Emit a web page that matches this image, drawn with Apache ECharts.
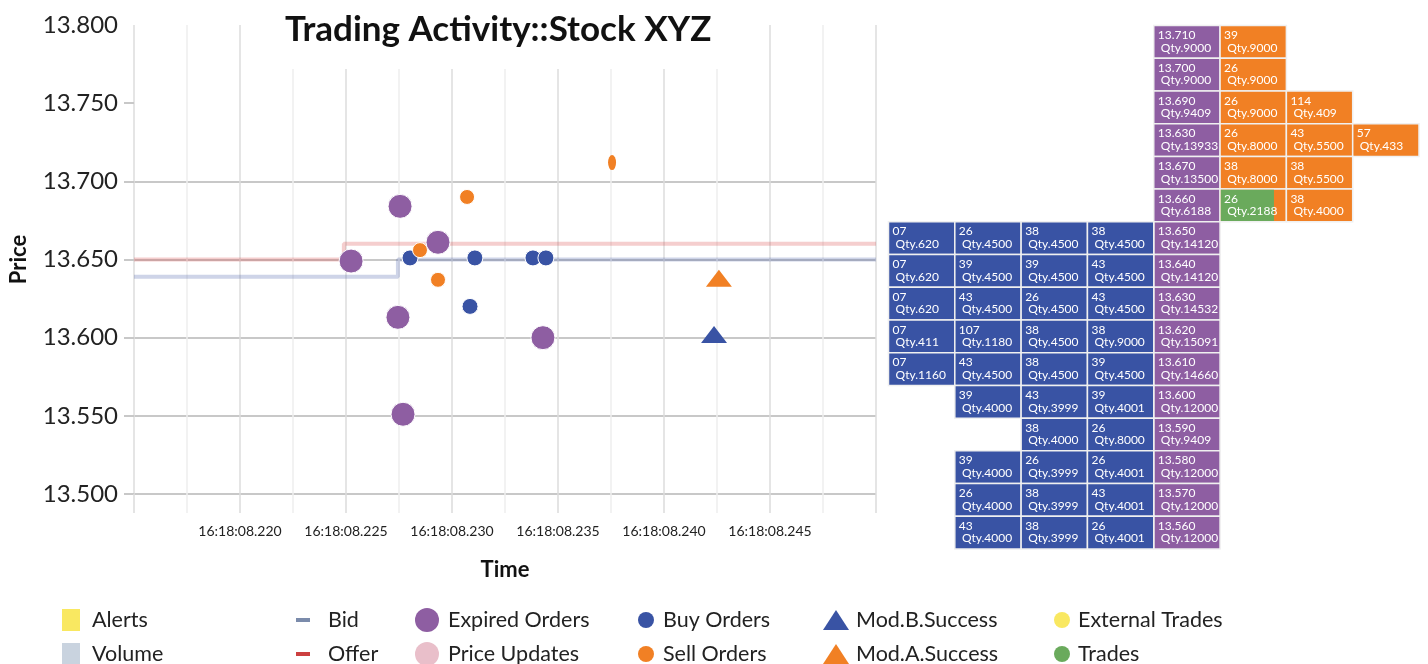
<!DOCTYPE html>
<html>
<head>
<meta charset="utf-8">
<script src="https://cdn.jsdelivr.net/npm/echarts@6/dist/echarts.min.js"></script>
<style>
html,body{margin:0;padding:0;background:#fff;}
#chart{width:1428px;height:664px;}
</style>
</head>
<body>
<div id="chart"></div>
<script>
// ---------- DATA ----------
const chartTitle = 'Trading Activity::Stock XYZ';
const timePrefix = '16:18:08.';
// time in milliseconds after 16:18:08.000, price
const bidLine = [[215, 13.639], [227.45, 13.650], [250, 13.650]];
const offerLine = [[215, 13.650], [224.9, 13.660], [250, 13.660]];
const expiredOrders = [[225.24, 13.649], [227.55, 13.684], [229.34, 13.661], [227.45, 13.613], [227.69, 13.551], [234.29, 13.600]];
const buyOrders = [[228.02, 13.651], [231.08, 13.651], [233.82, 13.651], [234.43, 13.651], [230.85, 13.620]];
const sellOrders = [[228.49, 13.656], [229.34, 13.637], [230.71, 13.690]];
const sellOrdersNarrow = [[237.55, 13.712]];
const modBSuccess = [[242.36, 13.602]];
const modASuccess = [[242.59, 13.638]];

// order book (top row to bottom row)
const bookPrices = ['13.710','13.700','13.690','13.630','13.670','13.660','13.650','13.640','13.630','13.620','13.610','13.600','13.590','13.580','13.570','13.560'];
const bookLevelQty = [9000,9000,9409,13933,13500,6188,14120,14120,14532,15091,14660,12000,9409,12000,12000,12000];
const bookBids = [
  [], [], [], [], [], [],
  [['07',620],['26',4500],['38',4500],['38',4500]],
  [['07',620],['39',4500],['39',4500],['43',4500]],
  [['07',620],['43',4500],['26',4500],['43',4500]],
  [['07',411],['107',1180],['38',4500],['38',9000]],
  [['07',1160],['43',4500],['38',4500],['39',4500]],
  [['39',4000],['43',3999],['39',4001]],
  [['38',4000],['26',8000]],
  [['39',4000],['26',3999],['26',4001]],
  [['26',4000],['38',3999],['43',4001]],
  [['43',4000],['38',3999],['26',4001]]
];
const bookAsks = [
  [['39',9000]],
  [['26',9000]],
  [['26',9000],['114',409]],
  [['26',8000],['43',5500],['57',433]],
  [['38',8000],['38',5500]],
  [['26',2188],['38',4000]],
  [], [], [], [], [], [], [], [], [], []
];
// [row, ask index, traded share of the order]
const bookTraded = [[5, 0, 0.82]];

// ---------- STYLE ----------
const C = {
  blue: '#3953a4', purple: '#8e5ea2', orange: '#f18024', green: '#6aaa5c',
  yellow: '#f9e861', volume: '#c9d3df', pink: '#e9bfca',
  bidLeg: '#7b8bab', offerLeg: '#cc4040'
};
const FONT = 'Lato, "Open Sans", sans-serif';

// build order book cells
const bookCols = ['b0','b1','b2','b3','p','a0','a1','a2'];
const bookRows = bookPrices.map((p, i) => 'r' + i);
const cells = [];
bookPrices.forEach((p, r) => {
  cells.push({col: 4, row: r, l1: p, l2: 'Qty.' + bookLevelQty[r], color: C.purple, share: 0});
  const bids = bookBids[r];
  bids.forEach((o, i) => {
    cells.push({col: 4 - bids.length + i, row: r, l1: o[0], l2: 'Qty.' + o[1], color: C.blue, share: 0});
  });
  bookAsks[r].forEach((o, i) => {
    let share = 0;
    bookTraded.forEach(t => { if (t[0] === r && t[1] === i) share = t[2]; });
    cells.push({col: 5 + i, row: r, l1: o[0], l2: 'Qty.' + o[1], color: C.orange, share: share});
  });
});

function renderCell(params, api) {
  const cell = cells[params.dataIndex];
  const c = api.coord([api.value(0), api.value(1)]);
  const s = api.size([1, 1]);
  const w = s[0], h = s[1];
  const x0 = c[0] - w / 2, y0 = c[1] - h / 2;
  const children = [{
    type: 'rect',
    shape: {x: x0, y: y0, width: w, height: h},
    style: {fill: cell.color, stroke: '#f0f0f0', lineWidth: 1.5}
  }];
  if (cell.share > 0) {
    children.push({
      type: 'rect',
      shape: {x: x0 + 0.75, y: y0 + 0.75, width: (w - 1.5) * cell.share, height: h - 1.5},
      style: {fill: C.green}
    });
  }
  children.push({
    type: 'text',
    style: {
      text: cell.l1 + '\n ' + cell.l2,
      x: x0 + 4, y: y0 + 3.5,
      fill: '#fff', fontSize: 12, fontFamily: FONT, lineHeight: 12.5,
      verticalAlign: 'top', align: 'left'
    }
  });
  return {type: 'group', children: children};
}

// legends
const legendSpec = [
  ['Alerts', 'rect', 18, 22, 62, 619, 12, C.yellow],
  ['Volume', 'rect', 18, 22, 62, 653, 12, C.volume],
  ['Bid', 'rect', 14, 4, 296, 619, 18, C.bidLeg],
  ['Offer', 'rect', 14, 4, 296, 653, 18, C.offerLeg],
  ['Expired Orders', 'circle', 24, 24, 415, 619, 9, C.purple],
  ['Price Updates', 'circle', 24, 24, 415, 653, 9, C.pink],
  ['Buy Orders', 'circle', 16, 16, 638, 619, 9, C.blue],
  ['Sell Orders', 'circle', 16, 16, 638, 653, 9, C.orange],
  ['Mod.B.Success', 'triangle', 26, 20, 823, 619, 7, C.blue],
  ['Mod.A.Success', 'triangle', 26, 20, 823, 653, 7, C.orange],
  ['External Trades', 'circle', 16, 16, 1054, 619, 8, C.yellow],
  ['Trades', 'circle', 16, 16, 1054, 653, 8, C.green]
];
const legends = legendSpec.map(l => ({
  data: [{name: l[0], icon: l[1], itemStyle: {color: l[7], borderWidth: 0, opacity: 1}}],
  left: l[4], top: l[5] - 12,
  itemWidth: l[2], itemHeight: l[3],
  padding: 0, selectedMode: false,
  textStyle: {fontSize: 21.5, fontFamily: FONT, color: '#222', lineHeight: 24, padding: [2, 0, 0, l[6] - 5]}
}));

const chart = echarts.init(document.getElementById('chart'), null, {renderer: 'canvas'});
const option = {
  backgroundColor: '#fff',
  animation: false,
  title: {
    text: chartTitle,
    left: 245, top: 0,
    padding: [10, 40, 19, 40],
    backgroundColor: '#fff',
    textStyle: {fontSize: 35, fontWeight: 'bold', fontFamily: FONT, color: '#111', lineHeight: 40}
  },
  legend: legends,
  grid: [
    {left: 133, right: 552, top: 25, bottom: 170, containLabel: false},
    {left: 888.5, right: 9, top: 25.5, bottom: 115, containLabel: false}
  ],
  xAxis: [{
    type: 'value', gridIndex: 0, min: 215, max: 250, interval: 5,
    name: 'Time', nameLocation: 'middle', nameGap: 65,
    nameTextStyle: {fontSize: 22, fontWeight: 'bold', fontFamily: FONT, color: '#111'},
    axisLine: {show: false},
    axisTick: {show: true, length: 19, lineStyle: {color: '#dcdcdc', width: 1.5}},
    minorTick: {show: true, splitNumber: 2, length: 19, lineStyle: {color: '#eeeeee', width: 1.5}},
    axisLabel: {
      showMinLabel: false, showMaxLabel: false, margin: 30,
      fontSize: 14, fontFamily: FONT, color: '#222',
      formatter: v => timePrefix + String(Math.round(v))
    },
    splitLine: {show: true, lineStyle: {color: '#dcdcdc', width: 1.5}},
    minorSplitLine: {show: true, lineStyle: {color: '#eeeeee', width: 1.5}}
  }, {
    type: 'category', gridIndex: 1, data: bookCols, show: false
  }],
  yAxis: [{
    type: 'value', gridIndex: 0, min: 13.5, max: 13.8, interval: 0.05,
    name: 'Price', nameLocation: 'middle', nameGap: 104,
    nameTextStyle: {fontSize: 22, fontWeight: 'bold', fontFamily: FONT, color: '#111'},
    axisLine: {show: false},
    axisTick: {show: true, length: 10, lineStyle: {color: '#c8c8c8', width: 2},
      customValues: [13.5, 13.55, 13.6, 13.65, 13.7, 13.75]},
    axisLabel: {margin: 16, fontSize: 24, fontFamily: FONT, color: '#222', formatter: v => v.toFixed(3)},
    splitLine: {show: true, showMaxLine: false, lineStyle: {color: '#c8c8c8', width: 2}}
  }, {
    type: 'category', gridIndex: 1, data: bookRows, inverse: true, show: false
  }],
  series: [
    {name: 'Alerts', type: 'scatter', data: [], itemStyle: {color: C.yellow}},
    {name: 'Volume', type: 'bar', data: [], itemStyle: {color: C.volume}},
    {name: 'Bid', type: 'line', step: 'end', symbol: 'none', data: bidLine, z: 3,
      itemStyle: {color: C.bidLeg}, lineStyle: {color: 'rgba(58,83,164,0.25)', width: 4}},
    {name: 'Offer', type: 'line', step: 'end', symbol: 'none', data: offerLine, z: 3,
      itemStyle: {color: C.offerLeg}, lineStyle: {color: 'rgba(214,60,60,0.25)', width: 4}},
    {name: 'Price Updates', type: 'scatter', data: [], itemStyle: {color: C.pink}},
    {name: 'Buy Orders', type: 'scatter', data: buyOrders, symbolSize: 16, z: 4,
      itemStyle: {color: C.blue, borderColor: '#fff', borderWidth: 1, opacity: 1}},
    {name: 'Sell Orders', type: 'scatter', data: sellOrders, symbolSize: 15, z: 4,
      itemStyle: {color: C.orange, borderColor: '#fff', borderWidth: 1, opacity: 1}},
    {name: 'Sell Orders', type: 'scatter', data: sellOrdersNarrow, symbolSize: [8, 15], z: 4,
      itemStyle: {color: C.orange, opacity: 1}},
    {name: 'Expired Orders', type: 'scatter', data: expiredOrders, symbolSize: 24, z: 5,
      itemStyle: {color: C.purple, borderColor: '#fff', borderWidth: 1, opacity: 1}},
    {name: 'Mod.B.Success', type: 'scatter', symbol: 'triangle', data: modBSuccess, symbolSize: [26, 17], z: 5,
      itemStyle: {color: C.blue, opacity: 1}},
    {name: 'Mod.A.Success', type: 'scatter', symbol: 'triangle', data: modASuccess, symbolSize: [26, 17], z: 5,
      itemStyle: {color: C.orange, opacity: 1}},
    {name: 'External Trades', type: 'scatter', data: [], itemStyle: {color: C.yellow}},
    {name: 'Trades', type: 'scatter', data: [], itemStyle: {color: C.green}},
    {name: 'book', type: 'custom', xAxisIndex: 1, yAxisIndex: 1,
      data: cells.map(c => [c.col, c.row]), renderItem: renderCell, silent: true}
  ]
};
chart.setOption(option);
</script>
</body>
</html>
